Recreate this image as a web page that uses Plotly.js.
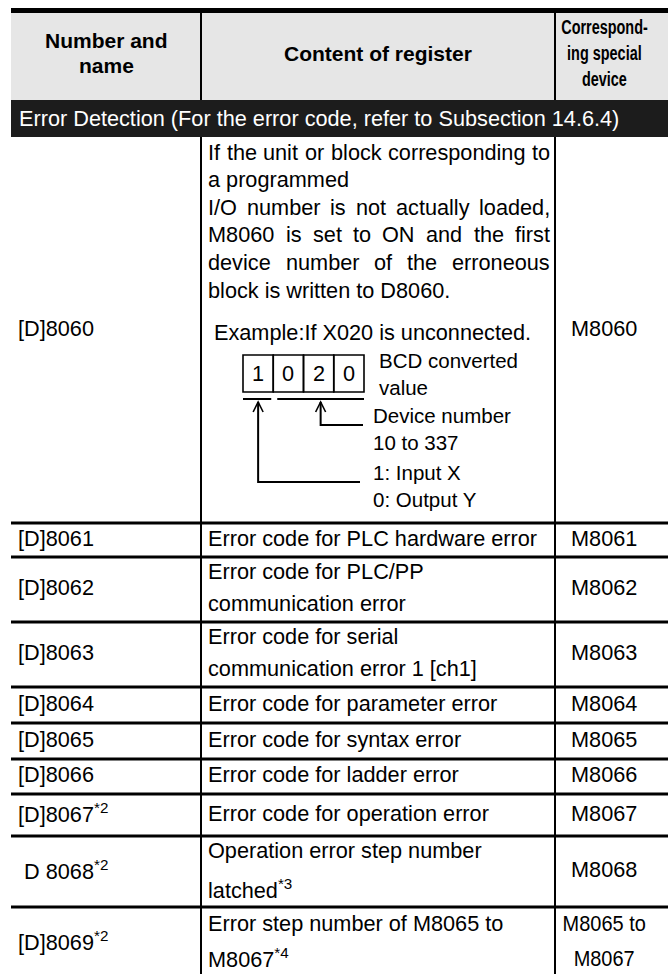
<!DOCTYPE html>
<html><head><meta charset="utf-8">
<script src="https://cdn.plot.ly/plotly-3.0.1.min.js"></script>
<style>html,body{margin:0;padding:0;background:#fff;}</style>
</head><body><div id="chart" style="width:668px;height:974px;"></div>
<script>
// ---------- DATA ----------
const headers = ['Number and<br>name', 'Content of register', 'Correspond-<br>ing special<br>device'];
const sectionTitle = 'Error Detection (For the error code, refer to Subsection 14.6.4)';
const registers = ['[D]8060', '[D]8061', '[D]8062', '[D]8063', '[D]8064', '[D]8065', '[D]8066',
  '[D]8067<sup>*2</sup>', '\u00a0D 8068<sup>*2</sup>', '[D]8069<sup>*2</sup>'];
const introLines = ['If the unit or block corresponding to', 'a programmed',
  'I/O number is not actually loaded,', 'M8060 is set to ON and the first',
  'device number of the erroneous', 'block is written to D8060.'];
const introJustified = [true, false, true, true, true, false];
const contents = [null,
  ['Error code for PLC hardware error'],
  ['Error code for PLC/PP', 'communication error'],
  ['Error code for serial', 'communication error 1 [ch1]'],
  ['Error code for parameter error'],
  ['Error code for syntax error'],
  ['Error code for ladder error'],
  ['Error code for operation error'],
  ['Operation error step number', 'latched<sup>*3</sup>'],
  ['Error step number of M8065 to', 'M8067<sup>*4</sup>']];
const devices = [['M8060'], ['M8061'], ['M8062'], ['M8063'], ['M8064'], ['M8065'], ['M8066'],
  ['M8067'], ['M8068'], ['M8065 to', 'M8067']];
const exampleText = 'Example:If X020 is unconnected.';
const bcdDigits = ['1', '0', '2', '0'];
const diagramLabels = [['BCD converted', 'value'], ['Device number', '10 to 337'], ['1: Input X', '0: Output Y']];

// ---------- LAYOUT ----------
const W = 668, H = 974;
const XL = 11, C1 = 201, C2 = 555, XR = 668;
const rowEdges = [137, 523, 557, 622, 687, 723, 759, 794, 836, 907, 978];
const rowPitch = [27.6, 0, 32, 32, 0, 0, 0, 0, 39, 35];
const FONT = 'Liberation Sans, Arial, sans-serif';
const FS = 21.7;
const BLACK = '#000000';

const shapes = [];
const ann = [];
const squeeze = {};   // annotation index -> horizontal compression factor (condensed type in reference)
function rect(x0, y0, x1, y1, color) {
  shapes.push({type: 'rect', xref: 'x', yref: 'y', x0, y0, x1, y1, fillcolor: color, line: {width: 0}, layer: 'below'});
}
function line(x0, y0, x1, y1, w) {
  shapes.push({type: 'line', xref: 'x', yref: 'y', x0, y0, x1, y1, line: {color: BLACK, width: w}});
}
function path(d, w) {
  shapes.push({type: 'path', xref: 'x', yref: 'y', path: d, line: {color: BLACK, width: w}});
}
function text(t, x, y, anchor, opts) {
  opts = opts || {};
  ann.push({text: t, x, y, xref: 'x', yref: 'y', showarrow: false, xanchor: anchor || 'left', yanchor: 'middle',
    align: opts.align || 'left', borderpad: 0,
    font: {family: opts.family || FONT, size: opts.size || FS, color: opts.color || BLACK, weight: opts.weight || 'normal'}});
  if (opts.squeeze) squeeze[ann.length - 1] = {f: opts.squeeze, anchor: anchor || 'left'};
}

// header & section backgrounds
rect(XL, 8, XR, 13, '#000000');
rect(XL, 13, XR, 100, '#e6e6e6');
rect(XL, 100, XR, 137, '#1c1c1c');

// header texts
text('Number and', (XL + C1) / 2, 40, 'center', {weight: 'bold', size: 21});
text('name', (XL + C1) / 2, 65, 'center', {weight: 'bold', size: 21});
text(headers[1], (C1 + C2) / 2, 53, 'center', {weight: 'bold', size: 21});
headers[2].split('<br>').forEach((t, i) =>
  text(t, 604, 26.5 + i * 26, 'center', {weight: 'bold', size: 19.5, squeeze: 0.74}));
text(sectionTitle, 18, 118, 'left', {color: '#ffffff'});

// grid lines
line(C1, 13, C1, 100, 2);
line(C2, 13, C2, 100, 2);
line(C1, 137, C1, H + 5, 2);
line(C2, 137, C2, H + 5, 2);
for (let i = 1; i < rowEdges.length - 1; i++) line(XL, rowEdges[i], XR, rowEdges[i], 3);

// measurement for justified lines
const cv = document.createElement('canvas').getContext('2d');
cv.font = FS + 'px "Liberation Sans"';

// rows
registers.forEach((r, i) => {
  const mid = (rowEdges[i] + rowEdges[i + 1]) / 2;
  text(r, 17, mid - 2, 'left');
  const dv = devices[i];
  const dp = rowPitch[i] || 28;
  dv.forEach((t, k) => text(t, 604, mid - 2 + (k - (dv.length - 1) / 2) * dp, 'center',
    dv.length > 1 ? {squeeze: 0.92} : {}));
  if (i === 0) return;
  const c = contents[i];
  c.forEach((t, k) => text(t, 207, mid - 2 + (k - (c.length - 1) / 2) * rowPitch[i], 'left'));
});

// first row: intro paragraph (justified)
const jx0 = 207, jx1 = 549;
introLines.forEach((t, k) => {
  const y = 152 + k * rowPitch[0];
  if (!introJustified[k]) { text(t, jx0, y, 'left'); return; }
  const words = t.split(' ');
  const widths = words.map(w => cv.measureText(w).width);
  const total = widths.reduce((a, b) => a + b, 0);
  const gap = (jx1 - jx0 - total) / (words.length - 1);
  let x = jx0;
  words.forEach((w, j) => { text(w, x, y, 'left'); x += widths[j] + gap; });
});
text(exampleText, 213, 332, 'left');

// BCD diagram
const bx = 243, by = 355, bw = 30.25, bh = 37;
bcdDigits.forEach((d, j) => {
  shapes.push({type: 'rect', xref: 'x', yref: 'y', x0: bx + j * bw, y0: by, x1: bx + (j + 1) * bw, y1: by + bh,
    line: {color: BLACK, width: 1.6}, fillcolor: 'rgba(0,0,0,0)'});
  text(d, bx + (j + 0.5) * bw, by + bh / 2, 'center');
});
const uy = by + bh + 7;
line(bx, uy, bx + bw - 2, uy, 2);
line(bx + bw + 4, uy, bx + 4 * bw, uy, 2);
const ax1 = bx + bw / 2, ax2 = (bx + bw + 4 + bx + 4 * bw) / 2, tipY = uy + 3;
path(`M${ax1},${tipY} L${ax1},482 L360,482`, 2);
path(`M${ax2},${tipY} L${ax2},425 L363,425`, 2);
[ax1, ax2].forEach(ax => path(`M${ax - 5},${tipY + 10} L${ax},${tipY} L${ax + 5},${tipY + 10}`, 1.6));
const labelPos = [[378, 374], [372, 429], [372, 486]];
diagramLabels.forEach((lb, j) => text(lb.join('<br>'), labelPos[j][0], labelPos[j][1], 'left', {size: 20.5}));

const layout = {
  width: W, height: H, margin: {l: 0, r: 0, t: 0, b: 0}, paper_bgcolor: '#ffffff', plot_bgcolor: '#ffffff',
  showlegend: false,
  xaxis: {range: [0, W], visible: false, fixedrange: true},
  yaxis: {range: [H, 0], visible: false, fixedrange: true},
  shapes, annotations: ann
};
Plotly.newPlot('chart', [{x: [], y: [], type: 'scatter', mode: 'markers', hoverinfo: 'skip'}], layout,
  {displayModeBar: false, staticPlot: true}).then(() => {
  Object.keys(squeeze).forEach(idx => {
    const el = document.querySelector(`#chart g.annotation[data-index="${idx}"] text.annotation-text`);
    if (!el) return;
    const s = squeeze[idx];
    const w = el.getComputedTextLength();
    const nw = w * s.f;
    const ta = el.getAttribute('text-anchor') || 'start';
    const x = parseFloat(el.getAttribute('x')) || 0;
    let dx = 0;
    if (ta === 'start') dx = s.anchor === 'center' ? (w - nw) / 2 : 0;
    else if (ta === 'end') dx = s.anchor === 'center' ? -(w - nw) / 2 : 0;
    el.setAttribute('x', (x + dx).toFixed(2));
    el.setAttribute('textLength', nw.toFixed(1));
    el.setAttribute('lengthAdjust', 'spacingAndGlyphs');
  });
});
</script></body></html>
